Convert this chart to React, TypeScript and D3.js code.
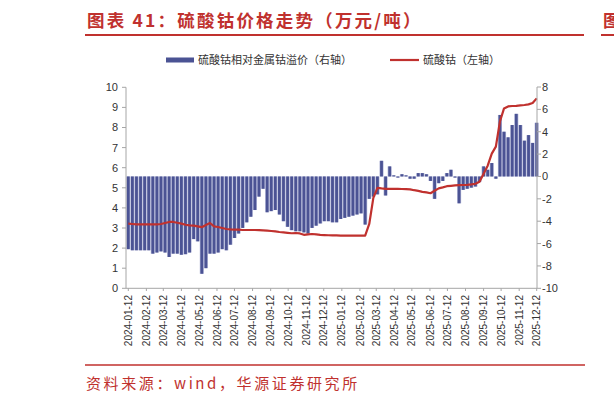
import { useRef, useEffect } from "react";
import * as d3 from "d3";

// weekly (Fridays) from 2024-01-12 to 2025-12-12
const premium = [
  -6.5, -6.6, -6.6, -6.6, -6.6, -6.6, -6.9, -6.8, -6.7, -6.8,
  -7.2, -6.9, -6.9, -7.0, -6.95, -6.8, -5.6, -5.8, -8.7, -8.2,
  -6.9, -6.9, -6.8, -6.5, -6.6, -6.1, -5.5, -5.1, -4.6, -4.1,
  -3.6, -3.0, -1.8, -1.1, -3.2, -3.1, -3.0, -3.4, -4.0, -4.5,
  -4.8, -4.9, -4.9, -5.0, -5.1, -4.6, -4.4, -4.2, -4.0, -4.0,
  -4.1, -4.1, -3.8, -3.7, -3.6, -3.5, -3.4, -3.3, -4.3, -2.0,
  -1.8, -1.6, 1.4, -1.7, 0.9, 0.1, -0.1, 0.2, 0.1, -0.2,
  -0.2, 0.3, 0.3, 0.2, -0.4, -2.0, -0.6, -0.4, 0.3, 0.6,
  -0.1, -2.4, -1.2, -1.1, -1.0, -0.9, -0.5, 0.9, 0.6, 1.2,
  -0.2, 5.5, 4.0, 3.5, 4.6, 5.6, 4.6, 3.2, 3.7, 3.0,
  4.8,
];

const price = [
  3.22, 3.2, 3.18, 3.18, 3.18, 3.18, 3.18, 3.18, 3.2, 3.25,
  3.3, 3.3, 3.26, 3.22, 3.16, 3.13, 3.12, 3.08, 3.04, 3.15,
  3.25, 3.08, 3.05, 3.0, 2.95, 2.93, 2.92, 2.92, 2.9, 2.9,
  2.9, 2.9, 2.89, 2.88, 2.87, 2.85, 2.83, 2.8, 2.78, 2.76,
  2.74, 2.75, 2.73, 2.66, 2.68, 2.7, 2.68, 2.66, 2.65, 2.64,
  2.63, 2.63, 2.62, 2.62, 2.62, 2.62, 2.62, 2.62, 2.62, 3.2,
  4.5, 5.0, 4.97, 4.95, 4.95, 4.95, 4.95, 4.94, 4.93, 4.92,
  4.88, 4.85, 4.8, 4.77, 4.73, 4.85, 4.97, 5.02, 5.08, 5.1,
  5.12, 5.13, 5.14, 5.15, 5.17, 5.2, 5.3, 5.7, 6.1, 6.7,
  7.05, 8.3, 8.95, 9.05, 9.07, 9.08, 9.1, 9.12, 9.15, 9.22,
  9.45,
];

const leftTicks = [0, 1, 2, 3, 4, 5, 6, 7, 8, 9, 10];
const rightTicks = [8, 6, 4, 2, 0, -2, -4, -6, -8, -10];

const RED = "#c0312e";
const BLUE = "#4b5394";
const LIGHT = "#b4b8d8";
const CJK = "'Noto Sans CJK SC', 'Noto Sans', sans-serif";
const LATIN = "'Liberation Sans', Arial, sans-serif";

export default function App() {
  const svgRef = useRef(null);

  useEffect(() => {
    const svg = d3.select(svgRef.current);
    svg.selectAll("*").remove();

    const start = new Date(2024, 0, 12);
    const end = new Date(2025, 11, 12);
    const dates = d3.timeFriday.range(start, d3.timeDay.offset(end, 1));
    const months = d3.timeMonth
      .range(new Date(2024, 0, 1), new Date(2025, 11, 2))
      .map((m) => new Date(m.getFullYear(), m.getMonth(), 12));

    const x = d3.scaleTime().domain([start, end]).range([128.3, 536.7]);
    const yL = d3.scaleLinear().domain([0, 10]).range([288.3, 87.3]);
    const yR = d3.scaleLinear().domain([-10, 8]).range([288.3, 87]);
    const step = x(dates[1]) - x(dates[0]);

    // title
    svg
      .append("text")
      .attr("x", 87)
      .attr("y", 27)
      .attr("font-family", CJK)
      .attr("font-weight", 700)
      .attr("font-size", 17.5)
      .attr("letter-spacing", 2.2)
      .attr("fill", RED)
      .text("图表 41：硫酸钴价格走势（万元/吨）");
    svg.append("line").attr("x1", 85).attr("x2", 584).attr("y1", 35).attr("y2", 35)
      .attr("stroke", RED).attr("stroke-width", 2);
    svg.append("line").attr("x1", 601).attr("x2", 614).attr("y1", 35).attr("y2", 35)
      .attr("stroke", RED).attr("stroke-width", 2);
    svg.append("text").attr("x", 603).attr("y", 27).attr("font-family", CJK)
      .attr("font-weight", 700).attr("font-size", 17.5).attr("fill", RED).text("图");

    // legend
    const lg = svg.append("g").attr("font-family", CJK).attr("font-size", 11).attr("fill", "#333");
    lg.append("rect").attr("x", 166).attr("y", 57.5).attr("width", 28).attr("height", 5).attr("fill", BLUE);
    lg.append("text").attr("x", 198).attr("y", 64).text("硫酸钴相对金属钴溢价（右轴）");
    lg.append("line").attr("x1", 390).attr("x2", 419).attr("y1", 60).attr("y2", 60)
      .attr("stroke", RED).attr("stroke-width", 2.2);
    lg.append("text").attr("x", 423).attr("y", 64).text("硫酸钴（左轴）");

    // bars
    const bars = svg.append("g");
    bars
      .selectAll("rect.bg")
      .data(premium)
      .join("rect")
      .attr("class", "bg")
      .attr("x", (_, i) => x(dates[i]) - step / 2)
      .attr("width", step)
      .attr("y", (d) => Math.min(yR(d), yR(0)))
      .attr("height", (d) => Math.abs(yR(d) - yR(0)))
      .attr("fill", LIGHT);
    bars
      .selectAll("rect.fg")
      .data(premium)
      .join("rect")
      .attr("class", "fg")
      .attr("x", (_, i) => x(dates[i]) - step * 0.34)
      .attr("width", step * 0.68)
      .attr("y", (d) => Math.min(yR(d), yR(0)))
      .attr("height", (d) => Math.abs(yR(d) - yR(0)))
      .attr("fill", BLUE);

    // price line
    const line = d3
      .line<number>()
      .x((_, i) => x(dates[i]))
      .y((d) => yL(d));
    svg
      .append("path")
      .datum(price)
      .attr("d", line)
      .attr("fill", "none")
      .attr("stroke", RED)
      .attr("stroke-width", 2.2)
      .attr("stroke-linejoin", "round");

    // axes
    const axisColor = "#a6a6a6";
    const ax = svg.append("g").attr("stroke", axisColor).attr("stroke-width", 1);
    ax.append("line").attr("x1", 126).attr("x2", 126).attr("y1", yL(10)).attr("y2", yL(0));
    ax.append("line").attr("x1", 537).attr("x2", 537).attr("y1", yR(8)).attr("y2", yR(-10));
    ax.append("line").attr("x1", 126).attr("x2", 537).attr("y1", 288.3).attr("y2", 288.3);

    const lt = svg.append("g").attr("font-family", LATIN).attr("font-size", 11).attr("fill", "#333");
    leftTicks.forEach((t) => {
      ax.append("line").attr("x1", 122).attr("x2", 126).attr("y1", yL(t)).attr("y2", yL(t));
      lt.append("text").attr("x", 118).attr("y", yL(t)).attr("dy", "0.36em")
        .attr("text-anchor", "end").text(t);
    });
    rightTicks.forEach((t) => {
      ax.append("line").attr("x1", 537).attr("x2", 541).attr("y1", yR(t)).attr("y2", yR(t));
      lt.append("text").attr("x", 542).attr("y", yR(t)).attr("dy", "0.36em").text(t);
    });

    const xt = svg.append("g").attr("font-family", LATIN).attr("font-size", 10).attr("fill", "#333");
    months.forEach((m) => {
      ax.append("line").attr("x1", x(m)).attr("x2", x(m)).attr("y1", 288.3).attr("y2", 291);
      xt.append("text")
        .attr("transform", `translate(${x(m)},295) rotate(-90)`)
        .attr("text-anchor", "end")
        .attr("dy", "0.36em")
        .text(d3.timeFormat("%Y-%m-%d")(m));
    });

    // footer
    svg.append("line").attr("x1", 85).attr("x2", 585).attr("y1", 365).attr("y2", 365)
      .attr("stroke", RED).attr("stroke-width", 1.5);
    svg.append("text")
      .attr("x", 86)
      .attr("y", 389)
      .attr("font-family", CJK)
      .attr("font-size", 15)
      .attr("letter-spacing", 2.6)
      .attr("fill", RED)
      .text("资料来源：wind，华源证券研究所");
  }, []);

  return (
    <svg
      ref={svgRef}
      width={614}
      height={404}
      style={{ position: "absolute", left: 0, top: 0, background: "#fff" }}
    />
  );
}
